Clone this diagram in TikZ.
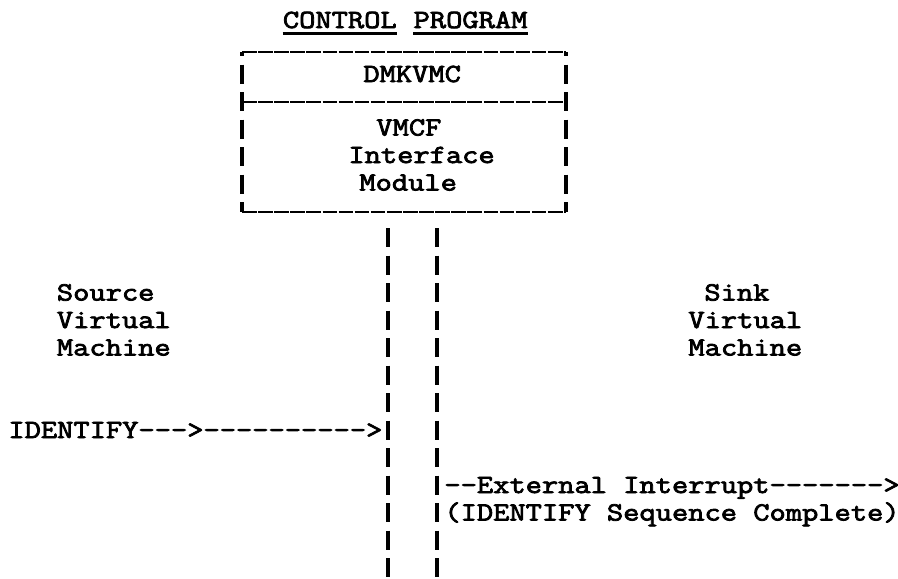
\documentclass[tikz,border=0pt]{standalone}
\usepackage{fontspec}
\setmonofont{Latin Modern Mono}[FakeStretch=1.205, FakeBold=3]
\usetikzlibrary{positioning}

\begin{document}
\begin{tikzpicture}[x=0.5pt, y=-0.5pt,
                typed/.style={font=\ttfamily\fontsize{13.1pt}{16pt}\selectfont, inner sep=0pt, text height=8pt, text depth=0pt, anchor=west},
                boxline/.style={line width=1.4pt, dash pattern=on 7.3pt off 0.75pt},
                boxside/.style={line width=2pt, dash pattern=on 9.5pt off 4.25pt, dash phase=7.5pt},
                barline/.style={line width=2.2pt, dash pattern=on 9.5pt off 4.25pt},
                uline/.style={line width=1.2pt}]
            \useasboundingbox (0,0) rectangle (898,578);
            % Heading
            \node[typed] (ctrl) at (282.5,20) {CONTROL};
            \node[typed, right=8.05pt of ctrl] (prog) {PROGRAM};
            \draw[uline] ([yshift=-2.5pt]ctrl.south west) -- ([yshift=-2.5pt]ctrl.south east);
            \draw[uline] ([yshift=-2.5pt]prog.south west) -- ([yshift=-2.5pt]prog.south east);
            % Control program box
            \coordinate (boxnw) at (242,52);
            \coordinate (boxne) at (566,52);
            \coordinate (sepw) at (242,102);
            \coordinate (sepe) at (566,102);
            \coordinate (boxsw) at (242,212);
            \coordinate (boxse) at (566,212);
            \draw[boxline] (boxnw) -- (boxne);
            \draw[boxline] (sepw) -- (sepe);
            \draw[boxline] (boxsw) -- (boxse);
            \draw[boxside] (boxnw) -- (boxsw);
            \draw[boxside] (boxne) -- (boxse);
            \node[typed] (dmkvmc) at (363,74) {DMKVMC};
            \node[typed] (vmcf) at (376,127.5) {VMCF};
            \node[typed] (iface) at (348,155) {Interface};
            \node[typed] (module) at (359,182.5) {Module};
            % Paths down from the box
            \coordinate (lbartop) at (388,228);
            \coordinate (lbarbot) at (388,578);
            \coordinate (rbartop) at (437,228);
            \coordinate (rbarbot) at (437,578);
            \draw[barline] (lbartop) -- (lbarbot);
            \draw[barline] (rbartop) -- (rbarbot);
        % Virtual machines
        \foreach \k/\txt in {0/Source, 1/Virtual, 2/Machine} {
            \node[typed] (src\k) at (56.5, {292.5+27.5*\k}) {\txt};
        }
        \node[typed] (sink0) at (704,292.5) {Sink};
        \node[typed] (sink1) at (688,320) {Virtual};
        \node[typed] (sink2) at (688,347.5) {Machine};
        % Signals
        \node[typed] (identify) at (8,430) {IDENTIFY--->---------->};
        \node[typed] (extint) at (444,485) {--External Interrupt------->};
        \node[typed] (seqdone) at (444,512.5) {(IDENTIFY Sequence Complete)};
            \end{tikzpicture}
\end{document}
